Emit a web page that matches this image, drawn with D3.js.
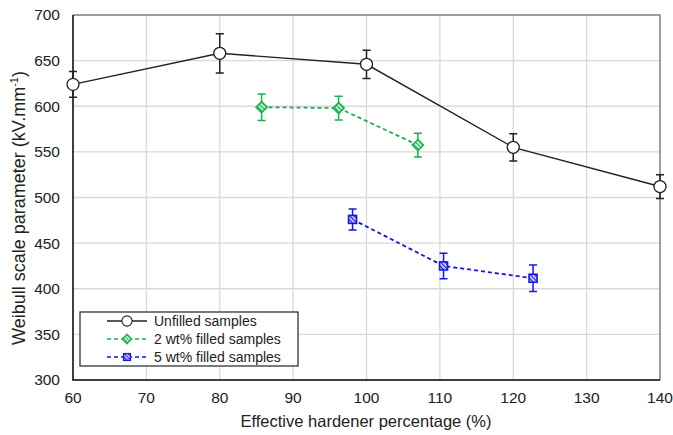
<!DOCTYPE html>
<html>
<head>
<meta charset="utf-8">
<script src="https://cdn.jsdelivr.net/npm/d3@7"></script>
<style>
  body { margin: 0; background: #fff; }
  text { font-family: "Liberation Sans", Arial, sans-serif; }
</style>
</head>
<body>
<div id="chart"></div>
<script>
// data
const unfilledX = [60, 80, 100, 120, 140];
const unfilledY = [624, 658, 646, 555, 512];
const unfilledErr = [14, 21.5, 15.5, 15, 13];

const filled2X = [85.7, 96.2, 107];
const filled2Y = [599, 598, 557.5];
const filled2Err = [14.5, 13, 13];

const filled5X = [98.1, 110.5, 122.7];
const filled5Y = [476, 425, 411.5];
const filled5Err = [11.5, 14, 14.5];

const xTicks = [60, 70, 80, 90, 100, 110, 120, 130, 140];
const yTicks = [300, 350, 400, 450, 500, 550, 600, 650, 700];

const width = 673, height = 435;
const margin = ({top: 15, right: 13, bottom: 55, left: 73});

const svg = d3.select("#chart")
    .append("svg")
    .attr("width", width)
    .attr("height", height);

const x = d3.scaleLinear([60, 140], [margin.left, width - margin.right]);
const y = d3.scaleLinear([300, 700], [height - margin.bottom, margin.top]);

const defs = svg.append("defs");
defs.append("pattern")
    .attr("id", "hatchGreen")
    .attr("patternUnits", "userSpaceOnUse")
    .attr("width", 3).attr("height", 3)
    .attr("patternTransform", "rotate(-45)")
    .call(p => p.append("rect").attr("width", 3).attr("height", 3).attr("fill", "#bfeed0"))
    .call(p => p.append("line").attr("x1", 0).attr("y1", 0).attr("x2", 0).attr("y2", 3)
        .attr("stroke", "#17b150").attr("stroke-width", 2));
defs.append("pattern")
    .attr("id", "hatchBlue")
    .attr("patternUnits", "userSpaceOnUse")
    .attr("width", 3).attr("height", 3)
    .attr("patternTransform", "rotate(-45)")
    .call(p => p.append("rect").attr("width", 3).attr("height", 3).attr("fill", "#c8c8ff"))
    .call(p => p.append("line").attr("x1", 0).attr("y1", 0).attr("x2", 0).attr("y2", 3)
        .attr("stroke", "#1414f0").attr("stroke-width", 2));

// gridlines
svg.append("g")
    .attr("stroke", "#d9d9d9")
    .attr("stroke-width", 1.3)
    .call(g => g.selectAll(".vx")
        .data(xTicks.slice(1, -1))
        .join("line")
        .attr("x1", d => x(d)).attr("x2", d => x(d))
        .attr("y1", y(300)).attr("y2", y(700)))
    .call(g => g.selectAll(".hy")
        .data(yTicks.slice(1, -1))
        .join("line")
        .attr("y1", d => y(d)).attr("y2", d => y(d))
        .attr("x1", x(60)).attr("x2", x(140)));

// plot frame
svg.append("path")
    .attr("fill", "none")
    .attr("stroke", "#7f7f7f")
    .attr("stroke-width", 1.5)
    .attr("d", `M${x(60)},${y(700)}H${x(140)}V${y(300)}`);
svg.append("path")
    .attr("fill", "none")
    .attr("stroke", "#000")
    .attr("stroke-width", 1.5)
    .attr("d", `M${x(60)},${y(700)}V${y(300)}H${x(140)}`);

// tick labels
svg.append("g")
    .attr("font-size", 15.5)
    .attr("fill", "#222")
    .attr("text-anchor", "middle")
    .selectAll("text")
    .data(xTicks)
    .join("text")
    .attr("x", d => x(d))
    .attr("y", 403)
    .text(d => d);

svg.append("g")
    .attr("font-size", 15.5)
    .attr("fill", "#222")
    .attr("text-anchor", "end")
    .selectAll("text")
    .data(yTicks)
    .join("text")
    .attr("x", x(60) - 13)
    .attr("y", d => y(d))
    .attr("dy", "0.35em")
    .text(d => d);

// axis titles
svg.append("text")
    .attr("x", 366)
    .attr("y", 427)
    .attr("text-anchor", "middle")
    .attr("font-size", 16.5)
    .attr("fill", "#222")
    .text("Effective hardener percentage (%)");

svg.append("text")
    .attr("transform", "translate(25,208) rotate(-90)")
    .attr("text-anchor", "middle")
    .attr("font-size", 18)
    .attr("fill", "#222")
    .call(t => t.append("tspan").text("Weibull scale parameter (kV.mm"))
    .call(t => t.append("tspan").attr("font-size", 11).attr("dy", -7).text("-1"))
    .call(t => t.append("tspan").attr("dy", 7).text(")"));

const series = [
    {name: "Unfilled samples", xs: unfilledX, ys: unfilledY, errs: unfilledErr,
     color: "#222", dash: null, shape: "circle", fill: "#fff"},
    {name: "2 wt% filled samples", xs: filled2X, ys: filled2Y, errs: filled2Err,
     color: "#17b150", dash: "4,3", shape: "diamond", fill: "url(#hatchGreen)"},
    {name: "5 wt% filled samples", xs: filled5X, ys: filled5Y, errs: filled5Err,
     color: "#1414f0", dash: "4,3", shape: "square", fill: "url(#hatchBlue)"}
];

function marker(g, s) {
    if (s.shape === "circle") {
        g.append("circle").attr("r", 6).attr("fill", s.fill)
            .attr("stroke", s.color).attr("stroke-width", 1.3);
    } else if (s.shape === "diamond") {
        g.append("path").attr("d", "M0,-5.5L5.5,0L0,5.5L-5.5,0Z")
            .attr("fill", s.fill).attr("stroke", s.color).attr("stroke-width", 1.6);
    } else {
        g.append("rect").attr("x", -4).attr("y", -4).attr("width", 8).attr("height", 8)
            .attr("fill", s.fill).attr("stroke", s.color).attr("stroke-width", 1.6);
    }
}

const line = d3.line().x(d => x(d[0])).y(d => y(d[1]));

for (const s of series) {
    const pts = s.xs.map((v, i) => [v, s.ys[i], s.errs[i]]);
    const g = svg.append("g");

    // error bars
    g.append("g")
        .attr("stroke", s.color)
        .attr("stroke-width", 1.5)
        .selectAll("path")
        .data(pts)
        .join("path")
        .attr("fill", "none")
        .attr("d", d => {
            const cx = x(d[0]), y1 = y(d[1] + d[2]), y2 = y(d[1] - d[2]);
            return `M${cx - 4},${y1}H${cx + 4}M${cx},${y1}V${y2}M${cx - 4},${y2}H${cx + 4}`;
        });

    g.append("path")
        .datum(pts)
        .attr("fill", "none")
        .attr("stroke", s.color)
        .attr("stroke-width", s.dash ? 1.8 : 1.4)
        .attr("stroke-dasharray", s.dash)
        .attr("d", line);

    g.append("g")
        .selectAll("g")
        .data(pts)
        .join("g")
        .attr("transform", d => `translate(${x(d[0])},${y(d[1])})`)
        .each(function() { marker(d3.select(this), s); });
}

// legend
const legend = svg.append("g").attr("transform", "translate(80,312)");
legend.append("rect")
    .attr("width", 218).attr("height", 54)
    .attr("fill", "#fff").attr("stroke", "#222").attr("stroke-width", 1.2);

legend.selectAll("g")
    .data(series)
    .join("g")
    .attr("transform", (d, i) => `translate(0,${9 + i * 18})`)
    .each(function(s) {
        const g = d3.select(this);
        g.append("line")
            .attr("x1", 27).attr("x2", 67)
            .attr("stroke", s.color)
            .attr("stroke-width", s.dash ? 1.6 : 1.3)
            .attr("stroke-dasharray", s.dash);
        const m = g.append("g").attr("transform", "translate(47,0) scale(0.85)");
        marker(m, s);
        g.append("text")
            .attr("x", 74)
            .attr("dy", "0.35em")
            .attr("font-size", 14)
            .attr("font-family", "'Open Sans', sans-serif")
            .attr("fill", "#222")
            .text(s.name);
    });
</script>
</body>
</html>
